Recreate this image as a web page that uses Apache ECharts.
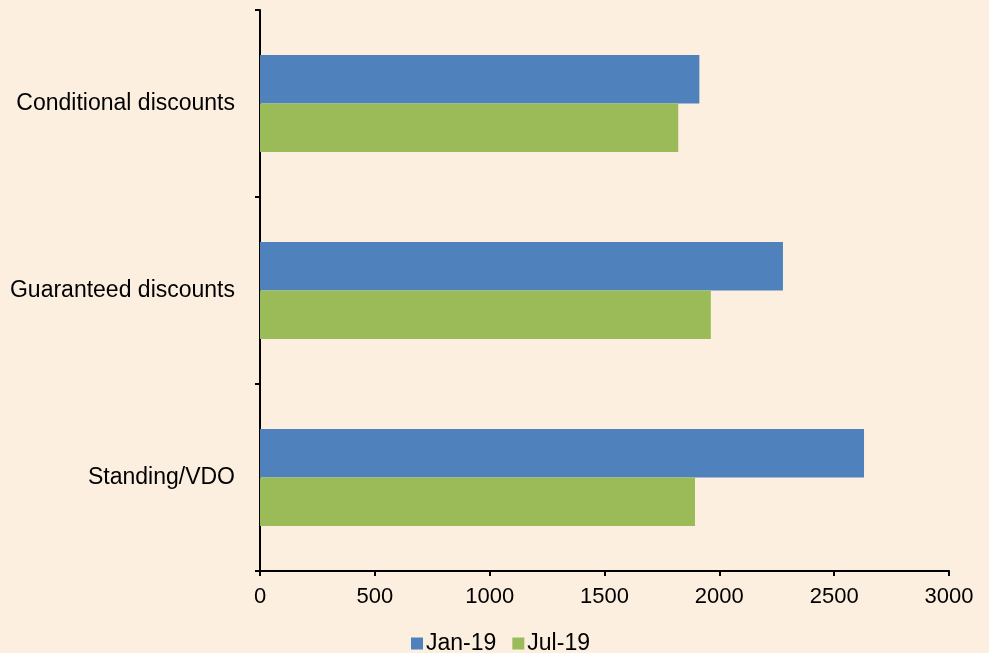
<!DOCTYPE html>
<html>
<head>
<meta charset="utf-8">
<script src="https://cdn.jsdelivr.net/npm/echarts@6/dist/echarts.min.js"></script>
<style>
    html, body { margin: 0; padding: 0; background: #fcefdf; }
    #chart_container { width: 989px; height: 653px; }
</style>
</head>
<body>
<div id="chart_container"></div>
<script>
// values
const categories = ['Conditional discounts', 'Guaranteed discounts', 'Standing/VDO'];
const jan19 = [1913, 2277, 2630];
const jul19 = [1821, 1963, 1894];
const seriesNames = ['Jan-19', 'Jul-19'];
const xTicks = [0, 500, 1000, 1500, 2000, 2500, 3000];

const font = '"Liberation Sans", Arial, sans-serif';

let chart = echarts.init(document.getElementById('chart_container'), null, {renderer: 'canvas'});

let chart_options = {
    animation: false,
    backgroundColor: '#fcefdf',
    grid: {
        left: 260,
        right: 40,
        top: 10,
        bottom: 82
    },
    legend: {
        data: seriesNames,
        left: 406,
        top: 627,
        itemWidth: 12,
        itemHeight: 12,
        itemGap: 16,
        icon: 'rect',
        textStyle: {
            fontFamily: font,
            fontSize: 23,
            color: '#000',
            padding: [0, 0, 0, -2]
        }
    },
    xAxis: {
        type: 'value',
        min: xTicks[0],
        max: xTicks[xTicks.length - 1],
        interval: 500,
        splitLine: {
            show: false
        },
        axisLine: {
            show: true,
            lineStyle: {
                color: '#000',
                width: 2
            }
        },
        axisTick: {
            show: true,
            length: 5,
            lineStyle: {
                color: '#000',
                width: 2
            }
        },
        axisLabel: {
            fontFamily: font,
            fontSize: 22,
            color: '#000',
            margin: 15,
            formatter: v => String(v)
        }
    },
    yAxis: {
        type: 'category',
        data: categories,
        inverse: true,
        axisLine: {
            show: true,
            lineStyle: {
                color: '#000',
                width: 2
            }
        },
        axisTick: {
            show: true,
            length: 5,
            lineStyle: {
                color: '#000',
                width: 2
            }
        },
        axisLabel: {
            fontFamily: font,
            fontSize: 23,
            color: '#000',
            margin: 25
        }
    },
    series: [
        {
            name: seriesNames[0],
            type: 'bar',
            data: jan19,
            barGap: '0%',
            barCategoryGap: '48%',
            itemStyle: {
                color: '#4f81bd'
            }
        },
        {
            name: seriesNames[1],
            type: 'bar',
            data: jul19,
            barGap: '0%',
            barCategoryGap: '48%',
            itemStyle: {
                color: '#9bbb59'
            }
        }
    ]
};

chart.setOption(chart_options, true);
</script>
</body>
</html>
